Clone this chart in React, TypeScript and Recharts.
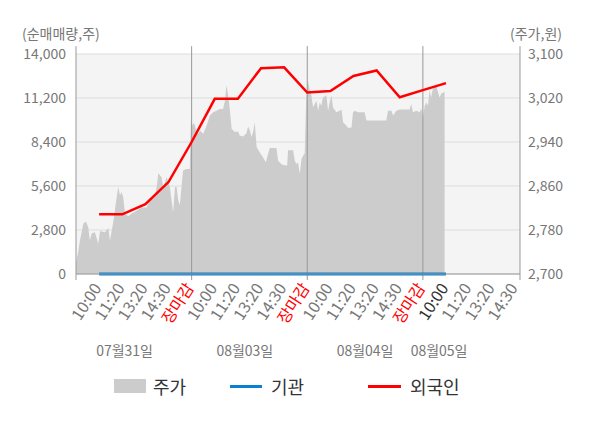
import React from 'react';
import {
  ComposedChart,
  Area,
  Line,
  XAxis,
  YAxis,
  CartesianGrid,
  ReferenceLine,
} from 'recharts';

// x positions are in "slot" units: one time tick = 10 units, one trading day = 50 units
const TIME_TICKS = [10, 20, 30, 40, 50, 60, 70, 80, 90, 100, 110, 120, 130, 140, 150, 160, 170, 180, 190];
const TIME_LABELS = [
  '10:00', '11:20', '13:20', '14:30', '장마감',
  '10:00', '11:20', '13:20', '14:30', '장마감',
  '10:00', '11:20', '13:20', '14:30', '장마감',
  '10:00', '11:20', '13:20', '14:30',
];
const DAY_BREAKS = [0, 50, 100, 150, 192];
const DATE_TICKS = [21, 73, 125, 157];
const DATE_LABELS = ['07월31일', '08월03일', '08월04일', '08월05일'];

const LEFT_TICKS = [0, 2800, 5600, 8400, 11200, 14000];
const RIGHT_TICKS = [2700, 2780, 2860, 2940, 3020, 3100];

// 주가 (price) – [slot, price]
const PRICE: [number, number][] = [
  [0, 2721], [1, 2741], [1.7, 2761], [3.2, 2792], [4.3, 2795], [5.3, 2785], [6, 2761], [6.8, 2774],
  [8.2, 2776], [9.6, 2755], [10.4, 2778], [12.5, 2776], [14, 2783], [14.7, 2761], [16.1, 2794],
  [17.6, 2840], [18.3, 2858], [19, 2843], [19.7, 2849], [20.4, 2840], [21.2, 2810], [22.6, 2805],
  [24.1, 2810], [26.2, 2815], [28.4, 2821], [30.5, 2821], [32, 2834], [34.1, 2840], [34.9, 2858],
  [35.6, 2883], [37, 2876], [37.7, 2858], [39.2, 2876], [40.6, 2858], [42, 2812], [42.8, 2858],
  [43.5, 2858], [44.2, 2834], [44.9, 2825], [46.3, 2888], [47.8, 2891], [49.2, 2891],
  [49.7, 2979], [50.4, 2970], [51, 2975], [52.1, 2961], [52.8, 2955], [53.6, 2961], [55, 2955],
  [56.5, 2970], [57.9, 2988], [59.3, 2994], [60.8, 2997], [62.2, 3000], [63.6, 3000], [64.4, 3015],
  [65.1, 3043], [65.8, 3025], [66.5, 3000], [67.3, 2964], [68.7, 2958], [70.1, 2959], [70.8, 2952],
  [72.3, 2950], [73.7, 2956], [74.4, 2968], [75.2, 2961], [75.9, 2949], [76.6, 2958], [77.3, 2976],
  [78.1, 2931], [79.5, 2921], [80.9, 2912], [82.1, 2903], [83.1, 2919], [83.8, 2929], [86.7, 2929],
  [87.4, 2906], [89, 2899], [91.3, 2897], [91.7, 2925], [93.9, 2925], [94.6, 2906], [95.3, 2900],
  [96, 2903], [96.8, 2882], [97.5, 2909], [98.2, 2915], [98.9, 2919],
  [99.6, 3025], [100, 3046], [100.3, 3052], [101.1, 3034], [101.8, 3025], [102.5, 3003], [104, 3015],
  [104.7, 2997], [105.4, 3012], [106.1, 3006], [106.8, 3021], [108.3, 3025], [109, 2997], [109.7, 3012],
  [110.5, 3025], [111.1, 3003], [112.6, 2994], [114, 2997], [114.8, 2999], [115.5, 2976], [116.9, 2970],
  [117.6, 2966], [119.1, 2966], [119.8, 2994], [120.5, 2997], [121.9, 2994], [124.8, 2994], [125.6, 2979],
  [134.2, 2979], [134.9, 2997], [136.4, 2997], [137.1, 2988], [138.5, 2997], [140, 2999], [144.3, 2999],
  [145, 3009], [145.7, 2994], [147.2, 2997], [148.6, 2994], [149.3, 3001],
  [150, 2985], [150.8, 3006], [151.5, 3012], [152.2, 3006], [152.9, 3034], [153.6, 3021], [154.3, 3037],
  [155.8, 3043], [156.5, 3031], [157.2, 3021], [158, 3028], [159.4, 3031],
];

// 기관 / 외국인 net buying, at each time tick
const FLOW_SLOTS = [10, 20, 30, 40, 50, 60, 70, 80, 90, 100, 110, 120, 130, 140, 150, 160];
const INSTITUTION = [0, 0, 0, 0, 0, 0, 0, 0, 0, 0, 0, 0, 0, 0, 0, 0];
const FOREIGN = [3800, 3800, 4450, 5850, 8400, 11150, 11150, 13100, 13150, 11550, 11650, 12600, 12950, 11250, 11700, 12150];

const priceData = PRICE.map(([u, p]) => ({ u, price: p }));
const flowData = FLOW_SLOTS.map((u, i) => ({ u, inst: INSTITUTION[i], foreign: FOREIGN[i] }));

const FONT = '"Noto Sans CJK KR", "Noto Sans", sans-serif';

const TimeTick = (props: any) => {
  const { x, y, payload } = props;
  const i = TIME_TICKS.indexOf(payload.value);
  const label = TIME_LABELS[i];
  const color = label === '장마감' ? '#ff0000' : i === 15 ? '#333333' : '#777777';
  const ax = x + 3;
  const ay = y + 14;
  return (
    <text
      x={ax}
      y={ay}
      transform={`rotate(-57, ${ax}, ${ay})`}
      textAnchor="end"
      fill={color}
      fontSize={16}
      fontFamily={FONT}
    >
      {label}
    </text>
  );
};

const DateTick = (props: any) => {
  const { x, y, payload } = props;
  const i = DATE_TICKS.indexOf(payload.value);
  return (
    <text x={x} y={y + 20} textAnchor="middle" fill="#777777" fontSize={14} fontFamily={FONT}>
      {DATE_LABELS[i]}
    </text>
  );
};

const fmt = (v: number) => v.toLocaleString('en-US');

export default function App() {
  return (
    <div style={{ position: 'absolute', left: 0, top: 0, width: 600, height: 428, fontFamily: FONT, background: '#fff' }}>
      <div style={{ position: 'absolute', left: 22, top: 24, fontSize: 14, color: '#777', lineHeight: '18px' }}>
        (순매매량,주)
      </div>
      <div style={{ position: 'absolute', right: 38, top: 24, fontSize: 14, color: '#777', lineHeight: '18px' }}>
        (주가,원)
      </div>
      <ComposedChart width={600} height={428} margin={{ top: 54, right: 0, bottom: 64, left: 0 }}>
        <CartesianGrid
          xAxisId="a"
          yAxisId="left"
          vertical={false}
          stroke="#dddddd"
          fill="#f4f4f4"
          horizontalValues={LEFT_TICKS}
        />
        <XAxis
          xAxisId="b"
          dataKey="u"
          type="number"
          domain={[0, 192]}
          ticks={DATE_TICKS}
          interval={0}
          tick={<DateTick />}
          tickLine={false}
          tickSize={0}
          axisLine={false}
          height={30}
          allowDataOverflow
        />
        <XAxis
          xAxisId="a"
          dataKey="u"
          type="number"
          domain={[0, 192]}
          ticks={TIME_TICKS}
          interval={0}
          tick={<TimeTick />}
          tickLine={false}
          tickSize={0}
          tickMargin={0}
          axisLine={{ stroke: '#999999' }}
          height={60}
          allowDataOverflow
        />
        <YAxis
          yAxisId="left"
          orientation="left"
          domain={[0, 14000]}
          ticks={LEFT_TICKS}
          interval={0}
          tickFormatter={fmt}
          tick={{ fill: '#777777', fontSize: 14, fontFamily: FONT }}
          tickLine={false}
          tickMargin={4}
          axisLine={false}
          width={76}
        />
        <YAxis
          yAxisId="right"
          orientation="right"
          domain={[2700, 3100]}
          ticks={RIGHT_TICKS}
          interval={0}
          tickFormatter={fmt}
          tick={{ fill: '#777777', fontSize: 14, fontFamily: FONT, textAnchor: 'start' }}
          tickLine={false}
          axisLine={false}
          width={80}
        />
        <Area
          xAxisId="a"
          yAxisId="right"
          data={priceData}
          dataKey="price"
          type="linear"
          stroke="none"
          fill="#cccccc"
          fillOpacity={1}
          isAnimationActive={false}
          dot={false}
          activeDot={false}
        />
        {DAY_BREAKS.map((u) => (
          <ReferenceLine
            key={u}
            xAxisId="a"
            yAxisId="left"
            segment={[{ x: u, y: 14500 }, { x: u, y: -380 }]}
            stroke="#999999"
            strokeWidth={1}
            ifOverflow="visible"
          />
        ))}
        <Line
          xAxisId="a"
          yAxisId="left"
          data={flowData}
          dataKey="inst"
          type="linear"
          stroke="#0a80d0"
          strokeWidth={3}
          dot={false}
          activeDot={false}
          isAnimationActive={false}
        />
        <Line
          xAxisId="a"
          yAxisId="left"
          data={flowData}
          dataKey="foreign"
          type="linear"
          stroke="#ff0000"
          strokeWidth={2.5}
          dot={false}
          activeDot={false}
          isAnimationActive={false}
        />
      </ComposedChart>
      <div
        style={{
          position: 'absolute',
          left: 0,
          top: 374,
          width: 600,
          height: 24,
          fontSize: 18,
          color: '#333',
          lineHeight: '24px',
        }}
      >
        <div style={{ position: 'absolute', left: 114, top: 5, width: 32, height: 14, background: '#cccccc' }} />
        <div style={{ position: 'absolute', left: 153, top: 0 }}>주가</div>
        <div style={{ position: 'absolute', left: 230, top: 10.5, width: 32, height: 3, background: '#0a80d0' }} />
        <div style={{ position: 'absolute', left: 271, top: 0 }}>기관</div>
        <div style={{ position: 'absolute', left: 368, top: 10.5, width: 33, height: 3, background: '#ff0000' }} />
        <div style={{ position: 'absolute', left: 410, top: 0 }}>외국인</div>
      </div>
    </div>
  );
}
